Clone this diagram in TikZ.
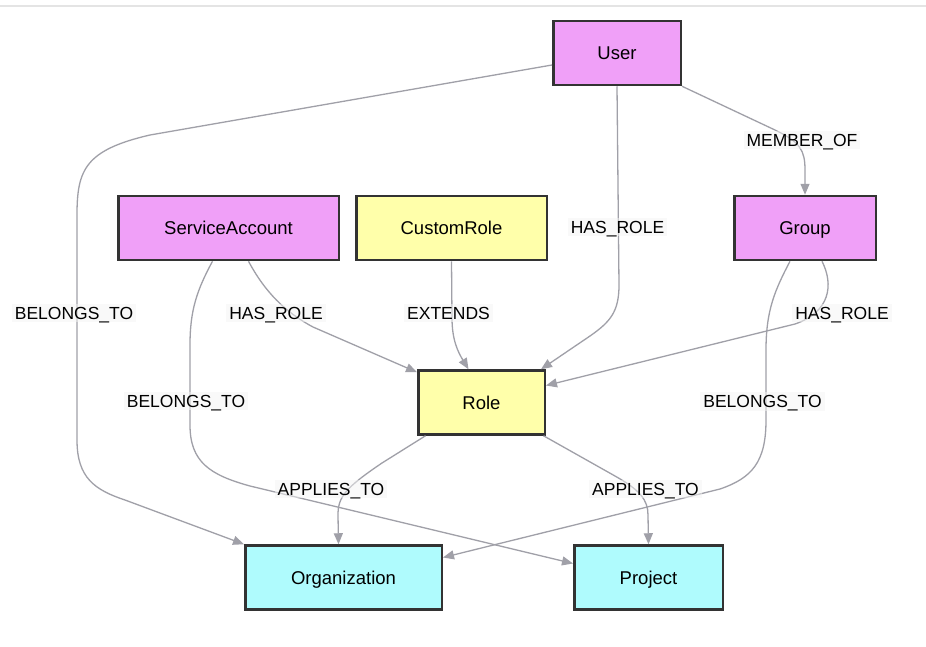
\documentclass[tikz,border=0pt]{standalone}
\usepackage{fontspec}
\setmainfont{Liberation Sans}
\usetikzlibrary{arrows.meta}
\definecolor{pinkfill}{RGB}{240,160,248}
\definecolor{yellowfill}{RGB}{255,255,170}
\definecolor{cyanfill}{RGB}{175,251,253}
\definecolor{boxline}{RGB}{51,51,51}
\definecolor{edgecol}{RGB}{160,160,168}
\definecolor{topcol}{RGB}{228,228,228}
\begin{document}
\begin{tikzpicture}[x=1pt,y=-1pt,
  box/.style={draw=boxline, line width=2.5pt, minimum height=64pt, inner sep=2pt,
    text height=13pt, text depth=0pt, font=\fontsize{18.5}{22}\selectfont},
  pinkbox/.style={box, fill=pinkfill},
  yellowbox/.style={box, fill=yellowfill},
  cyanbox/.style={box, fill=cyanfill},
  edge/.style={draw=edgecol, line width=1.3pt, -{Triangle[length=11pt,width=9pt]}},
  lbl/.style={fill=gray!8, fill opacity=0.5, text opacity=1, inner sep=3pt,
    text height=12.5pt, text depth=0pt, font=\fontsize{17.5}{21}\selectfont}]
\useasboundingbox (0,0) rectangle (926,646);
\fill[white] (0,0) rectangle (926,646);
\draw[topcol, line width=2pt] (0,6) -- (926,6);

% nodes
\node[pinkbox, minimum width=127.5pt] (user) at (617,53) {User};
\node[pinkbox, minimum width=220.5pt] (sa) at (228.5,228) {ServiceAccount};
\node[yellowbox, minimum width=190.5pt] (cr) at (451.5,228) {CustomRole};
\node[pinkbox, minimum width=141.5pt] (group) at (805,228) {Group};
\node[yellowbox, minimum width=126.5pt] (role) at (481.5,402.5) {Role};
\node[cyanbox, minimum width=196.5pt] (org) at (343.5,577.5) {Organization};
\node[cyanbox, minimum width=148.5pt] (proj) at (648.5,577.5) {Project};

% edges
\draw[edge] ([yshift=-12pt]user.west) -- (150,135) .. controls (85,150) and (77,170) .. (77,215)
  -- (77,440) .. controls (77,478) and (95,490) .. (125,500) -- (org.north west);
\draw[edge] (user.south) -- (619,285) .. controls (619,312) and (610,322) .. (590,336)
  -- ([xshift=-5pt]role.north east);
\draw[edge] (user.south east) -- (775,130) .. controls (800,142) and (805,150) .. (805,170)
  -- (group.north);
\draw[edge] ([xshift=20pt]sa.south) .. controls (265,292) and (285,312) .. (313,327)
  -- ([yshift=-3pt]role.north west);
\draw[edge] ([xshift=-16pt]sa.south) .. controls (197,290) and (190,310) .. (190,345)
  -- (190,425) .. controls (190,462) and (210,475) .. (250,486) -- ([yshift=14pt]proj.west);
\draw[edge] (cr.south) -- (452,318) .. controls (452,340) and (458,352) .. ([xshift=-13pt]role.north);
\draw[edge] ([xshift=17pt]group.south) .. controls (834,285) and (830,312) .. (795,324)
  -- ([yshift=17pt]role.east);
\draw[edge] ([xshift=-15pt]group.south) .. controls (775,290) and (766,310) .. (766,350)
  -- (766,420) .. controls (766,462) and (752,478) .. (720,489) -- ([yshift=20pt]org.east);
\draw[edge] ([xshift=-56pt]role.south) -- (382,463) .. controls (345,488) and (338,497) .. (338,515)
  -- ([xshift=-5pt]org.north);
\draw[edge] ([xshift=62pt]role.south) -- (615,476) .. controls (640,490) and (648,500) .. (648,515)
  -- (proj.north);

% labels
\node[lbl] (l1) at (74,313) {BELONGS\_TO};
\node[lbl] (l2) at (617.5,227) {HAS\_ROLE};
\node[lbl] (l3) at (802,140) {MEMBER\_OF};
\node[lbl] (l4) at (276,313) {HAS\_ROLE};
\node[lbl] (l5) at (448.5,313) {EXTENDS};
\node[lbl] (l6) at (842,313) {HAS\_ROLE};
\node[lbl] (l7) at (186,401) {BELONGS\_TO};
\node[lbl] (l8) at (762.5,401.5) {BELONGS\_TO};
\node[lbl] (l9) at (331,489) {APPLIES\_TO};
\node[lbl] (l10) at (645.5,489) {APPLIES\_TO};
\end{tikzpicture}
\end{document}
